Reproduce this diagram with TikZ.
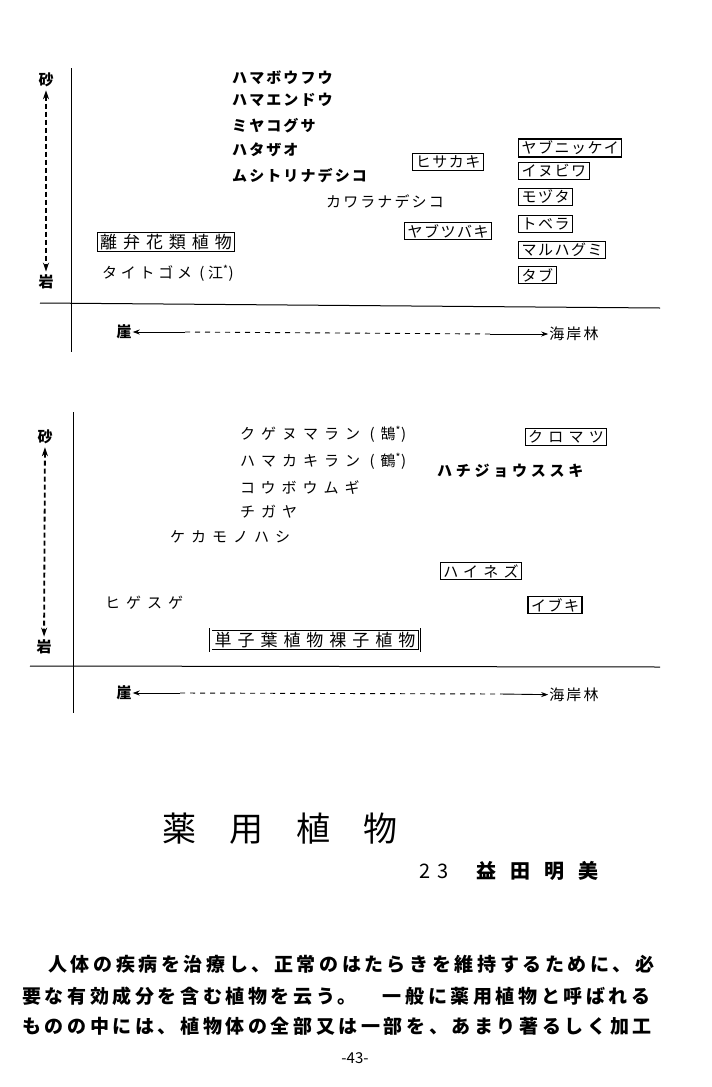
\documentclass[tikz,border=0pt]{standalone}
\usepackage{fontspec}
\usetikzlibrary{arrows.meta}
\setmainfont{Noto Sans CJK JP}
\newfontfamily\lst[LetterSpace=14]{Noto Sans CJK JP}
\newfontfamily\lstm[LetterSpace=25]{Noto Sans CJK JP}
\newfontfamily\lstw[LetterSpace=40]{Noto Sans CJK JP}
\newfontfamily\bx[LetterSpace=10]{Noto Sans CJK JP}
\newfontfamily\bxw[LetterSpace=35]{Noto Sans CJK JP}
\newfontfamily\dbx[LetterSpace=35]{Noto Sans CJK JP}
\newfontfamily\bodyfnt[LetterSpace=19]{Noto Sans CJK JP}
\newfontfamily\ttl[LetterSpace=97]{Noto Sans CJK JP}
\newfontfamily\auth[LetterSpace=70]{Noto Sans CJK JP}
\newfontfamily\num[LetterSpace=30]{Noto Sans CJK JP}

\begin{document}
\begin{tikzpicture}
  [x=1pt, y=-1pt, >={Stealth[length=7pt, width=5pt]},
   lbl/.style={anchor=west, inner sep=0pt, font={\fontsize{15pt}{15pt}\selectfont\lst}},
   lblb/.style={lbl, font={\fontsize{15pt}{15pt}\selectfont\lst\bfseries}},
   lblm/.style={lbl, font={\fontsize{15pt}{15pt}\selectfont\lstm}},
   lblw/.style={lbl, font={\fontsize{15pt}{15pt}\selectfont\lstw}},
   box/.style={draw, line width=1.2pt, inner xsep=3pt, inner ysep=2pt, font={\fontsize{15pt}{15pt}\selectfont\bx}},
   boxw/.style={box, font={\fontsize{15pt}{15pt}\selectfont\bxw}},
   dbox/.style={draw, double, double distance=1.6pt, line width=.8pt, inner xsep=4pt, inner ysep=3pt, font={\fontsize{17pt}{17pt}\selectfont\dbx}},
   end/.style={inner sep=1pt, font={\fontsize{15pt}{15pt}\selectfont\lst\bfseries}},
   updown/.style={{Stealth[length=9pt, width=6pt]}-{Stealth[length=9pt, width=6pt]}, line width=1.8pt, dash pattern=on 5pt off 3pt, shorten <=2pt, shorten >=2pt},
   gap/.style={line width=.9pt, dash pattern=on 5pt off 5pt},
   txt/.style={anchor=west, inner sep=0pt, font={\fontsize{19pt}{19pt}\selectfont\bodyfnt\bfseries}}]
  \useasboundingbox (0,0) rectangle (712,1087);

  % upper chart
  \coordinate (vt1) at (71,68);
  \coordinate (vb1) at (71,352);
  \coordinate (hl1) at (40,303);
  \coordinate (hr1) at (660,308);
  \draw[line width=1pt] (vt1) -- (vb1);
  \draw[line width=1pt] (hl1) -- (hr1);
  \node[end] (s1) at (46,80) {砂};
  \node[end] (i1) at (46,282) {岩};
  \draw[updown] (s1) -- (i1);

  \node[lblb] (a1) at (232,78) {ハマボウフウ};
  \node[lblb] (a2) at (232,100) {ハマエンドウ};
  \node[lblb] (a3) at (232,126) {ミヤコグサ};
  \node[lblb] (a4) at (232,150) {ハタザオ};
  \node[lblb] (a5) at (232,176) {ムシトリナデシコ};
  \node[lbl] (a6) at (326,202) {カワラナデシコ};
  \node[lblm] (a7) at (102,273) {タイトゴメ (江\textsuperscript{*})};
  \node[dbox] (d1) at (166,242) {離弁花類植物};

  \node[box] (b1) at (448,162) {ヒサカキ};
  \node[box] (b2) at (448,231) {ヤブツバキ};
  \node[box, anchor=west] (c1) at (518,148) {ヤブニッケイ};
  \node[box, anchor=west] (c2) at (518,171) {イヌビワ};
  \node[box, anchor=west] (c3) at (518,197) {モヅタ};
  \node[box, anchor=west] (c4) at (518,224) {トベラ};
  \node[box, anchor=west] (c5) at (518,250) {マルハグミ};
  \node[box, anchor=west] (c6) at (518,275) {タブ};

  \node[end] (g1) at (124,332) {崖};
  \node[end, font={\fontsize{15pt}{15pt}\selectfont\lst}] (k1) at (574,334) {海岸林};
  \coordinate (ga1) at (185,332);
  \coordinate (gb1) at (490,334);
  \draw[<-, line width=.9pt] (g1) -- (ga1);
  \draw[gap] (ga1) -- (gb1);
  \draw[->, line width=.9pt] (gb1) -- (k1);

  % lower chart
  \coordinate (vt2) at (73,412);
  \coordinate (vb2) at (73,713);
  \coordinate (hl2) at (30,666);
  \coordinate (hr2) at (660,667);
  \draw[line width=1pt] (vt2) -- (vb2);
  \draw[line width=1pt] (hl2) -- (hr2);
  \node[end] (s2) at (45,437) {砂};
  \node[end] (i2) at (44,647) {岩};
  \draw[updown] (s2) -- (i2);

  \node[lblw] (e1) at (240,434) {クゲヌマラン (鵠\textsuperscript{*})};
  \node[lblw] (e2) at (240,461) {ハマカキラン (鶴\textsuperscript{*})};
  \node[lblw] (e3) at (240,488) {コウボウムギ};
  \node[lblw] (e4) at (240,512) {チガヤ};
  \node[lblw] (e5) at (170,537) {ケカモノハシ};
  \node[lblb, font={\fontsize{15pt}{15pt}\selectfont\lstm\bfseries}] (e6) at (437,471) {ハチジョウススキ};
  \node[lblw] (e7) at (105,603) {ヒゲスゲ};
  \node[dbox] (d2) at (315,640) {単子葉植物裸子植物};

  \node[boxw] (f1) at (566,437) {クロマツ};
  \node[boxw] (f2) at (481,571) {ハイネズ};
  \node[box] (f3) at (555,605) {イブキ};

  \node[end] (g2) at (124,693) {崖};
  \node[end, font={\fontsize{15pt}{15pt}\selectfont\lst}] (k2) at (574,695) {海岸林};
  \coordinate (ga2) at (180,693);
  \coordinate (gb2) at (500,694);
  \draw[<-, line width=.9pt] (g2) -- (ga2);
  \draw[gap] (ga2) -- (gb2);
  \draw[->, line width=.9pt] (gb2) -- (k2);

  % title and text
  \node[anchor=west, inner sep=0pt, font={\fontsize{34pt}{34pt}\selectfont\ttl}] (t1) at (162,829) {薬用植物};
  \node[inner sep=0pt, font={\fontsize{20pt}{20pt}\selectfont\num}] (t2) at (434,871) {23};
  \node[anchor=west, inner sep=0pt, font={\fontsize{20pt}{20pt}\selectfont\auth\bfseries}] (t3) at (476,871) {益田明美};
  \node[txt] (l1) at (48,964) {人体の疾病を治療し、正常のはたらきを維持するために、必};
  \node[txt] (l2) at (22,996) {要な有効成分を含む植物を云う。　一般に薬用植物と呼ばれる};
  \node[txt] (l3) at (22,1026) {ものの中には、植物体の全部又は一部を、あまり著るしく加工};
  \node[inner sep=0pt, font={\fontsize{15pt}{15pt}\selectfont}] (pg) at (355,1058) {-43-};
\end{tikzpicture}
\end{document}
